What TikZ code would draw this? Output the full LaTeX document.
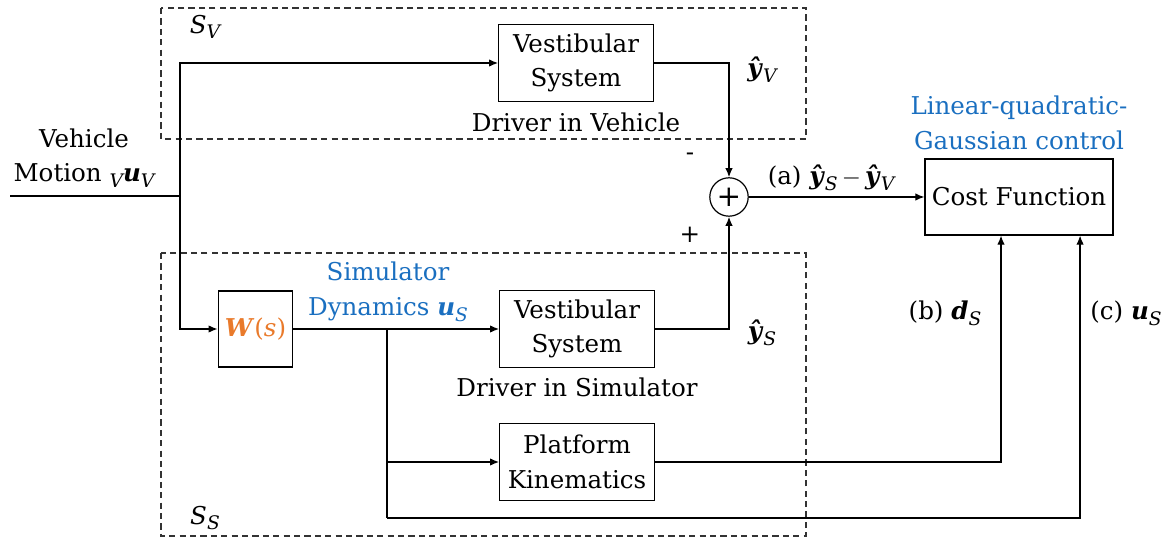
\documentclass[tikz,border=0pt]{standalone}
\usepackage{fontspec}
\setmainfont{DejaVu Serif}
\usetikzlibrary{arrows.meta,calc}
\definecolor{lqgblue}{HTML}{1A6FC0}
\definecolor{worange}{HTML}{E97A2B}
\newcommand{\bi}[1]{\textbf{\textit{#1}}}
\newcommand{\sub}[1]{\raisebox{-0.45ex}{\fontsize{7}{8}\selectfont\itshape #1}}
\begin{document}
\begin{tikzpicture}[x=0.375pt,y=-0.375pt,
  font=\fontsize{9.2}{13}\selectfont,
  blk/.style={draw,line width=0.45pt,align=center,inner sep=1pt,minimum width=58pt,minimum height=29pt},
  sumnode/.style={draw,circle,line width=0.45pt,minimum size=14.4pt,inner sep=0pt},
  arr/.style={line width=0.45pt,-{Latex[length=3.4pt,width=2.8pt]}},
  ln/.style={line width=0.45pt},
  dbox/.style={line width=0.4pt,dashed,dash pattern=on 2.3pt off 1.6pt,draw=black!80}]
\useasboundingbox (0,0) rectangle (1176,540);

% subsystem frames
\draw[dbox] (161,8) rectangle (806,139);
\draw[dbox] (161,253) rectangle (806,536);
\node (sv) at (205,27) {\textit{S}\sub{V}};
\node (ss) at (205,518) {\textit{S}\sub{S}};

% blocks
\node[blk] (vsv) at (576,63) {Vestibular\\System};
\node[blk] (vss) at (577,329) {Vestibular\\System};
\node[blk] (pk) at (577,462) {Platform\\Kinematics};
\node[blk,minimum width=28pt,minimum height=28.5pt] (ws) at (255.5,329) {\textcolor{worange}{\bi{W}(\textit{s})}};
\node[blk,minimum width=70.5pt,minimum height=28.5pt] (cost) at (1019,197) {Cost Function};
\node[sumnode,font=\fontsize{11}{12}\selectfont] (sum) at (729,197) {+};

% input signal
\coordinate (in) at (10,196);
\coordinate (j1) at (180,196);
\coordinate (b1) at (387,329);
\coordinate (b2) at (387,518);
\node[align=center] (veh) at (84,158) {Vehicle\\Motion \sub{V}\bi{u}\sub{V}};

\draw[ln] (in) -- (j1);
\draw[arr] (j1) |- (vsv.west);
\draw[arr] (j1) |- (ws.west);
\draw[arr] (ws.east) -- (vss.west);
\draw[arr] (b1) |- (pk.west);
\draw[ln] (b1) -- (b2);
\draw[arr] (b2) -| ([xshift=22.9pt]cost.south);
\draw[arr] (pk.east) -| ([xshift=-6.75pt]cost.south);
\draw[arr] (vsv.east) -| (sum.north);
\draw[arr] (vss.east) -| (sum.south);
\draw[arr] (sum.east) -- (cost.west);

% labels
\node (dv) at (576,122) {Driver in Vehicle};
\node (ds) at (577,387) {Driver in Simulator};
\node (yv) at (762,70) {\bi{ŷ}\sub{V}};
\node (ys) at (762,333) {\bi{ŷ}\sub{S}};
\node (minus) at (690,157) {-};
\node (plus) at (690,235) {+};
\node (la) at (831,178) {(a) \bi{ŷ}\sub{S}\,$-$\,\bi{ŷ}\sub{V}};
\node[align=center,text=lqgblue] (lqg) at (1019,123) {Linear-quadratic-\\Gaussian control};
\node[align=center,text=lqgblue] (simdyn) at (388,292) {Simulator\\Dynamics \bi{u}\sub{S}};
\node (lb) at (945,313) {(b) \bi{d}\sub{S}};
\node (lc) at (1126,313) {(c) \bi{u}\sub{S}};
\end{tikzpicture}
\end{document}
